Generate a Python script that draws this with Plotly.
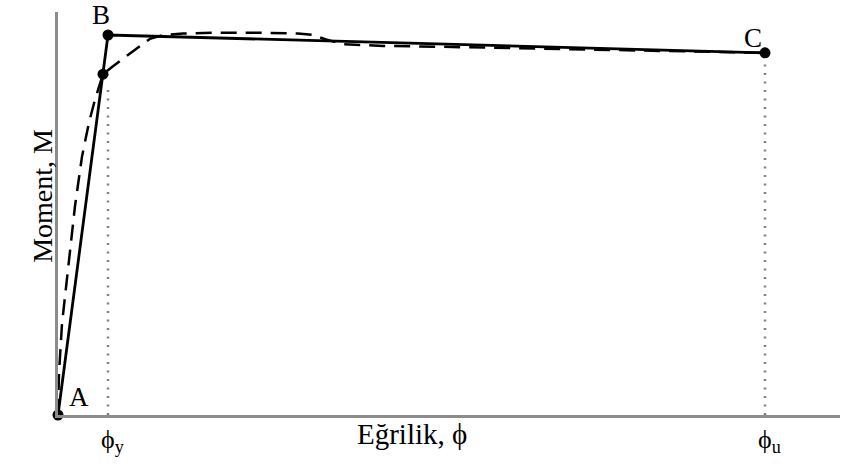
import plotly.graph_objects as go

# Idealised trilinear moment-curvature relation (A-B-C) and a measured-style curve
phi_ideal = [0.0, 0.50, 7.07]
m_ideal = [0.0, 1.00, 0.953]

phi_curve = [0.0, 0.01, 0.04, 0.10, 0.17, 0.24, 0.31, 0.37, 0.42, 0.45,
             0.55, 0.66, 0.79, 0.92, 1.05, 1.25, 1.60, 2.00, 2.40, 2.55,
             2.68, 2.85, 3.25, 3.62, 7.07]
m_curve = [0.0, 0.11, 0.24, 0.39, 0.55, 0.68, 0.77, 0.83, 0.875, 0.897,
           0.918, 0.940, 0.966, 0.990, 1.000, 1.004, 1.006, 1.006, 1.004, 1.000,
           0.988, 0.976, 0.971, 0.970, 0.953]

# Key points: A (origin), first yield, B (peak), C (ultimate)
pt_phi = [0.0, 0.45, 0.50, 7.07]
pt_m = [0.0, 0.897, 1.00, 0.953]

phi_y = 0.50
phi_u = 7.07
m_y = 0.897
m_u = 0.953

point_labels = ["A", "B", "C"]
point_label_phi = [0.21, 0.43, 6.95]
point_label_m = [0.047, 1.052, 0.993]

tick_texts = ["ϕ<sub>y</sub>", "ϕ<sub>u</sub>"]
tick_pos = [phi_y, phi_u]

FONT = "Liberation Serif"

fig = go.Figure()

# Dotted guides down to the curvature axis
fig.add_trace(go.Scatter(x=[phi_y, phi_y], y=[0, m_y - 0.03], mode="lines",
                         line=dict(color="#808080", width=2.5, dash="2px,6.5px"),
                         hoverinfo="skip", showlegend=False))
fig.add_trace(go.Scatter(x=[phi_u, phi_u], y=[0, m_u - 0.03], mode="lines",
                         line=dict(color="#808080", width=2.5, dash="2px,6.5px"),
                         hoverinfo="skip", showlegend=False))

# Dashed curve
fig.add_trace(go.Scatter(x=phi_curve, y=m_curve, mode="lines",
                         line=dict(color="black", width=2.5, dash="16px,9px"),
                         hoverinfo="skip", showlegend=False))

# Solid idealised curve
fig.add_trace(go.Scatter(x=phi_ideal, y=m_ideal, mode="lines",
                         line=dict(color="black", width=2.8),
                         hoverinfo="skip", showlegend=False))

# Point markers
fig.add_trace(go.Scatter(x=pt_phi, y=pt_m, mode="markers",
                         marker=dict(color="black", size=11),
                         cliponaxis=False, hoverinfo="skip", showlegend=False))

for lbl, px, py in zip(point_labels, point_label_phi, point_label_m):
    fig.add_annotation(x=px, y=py, xref="x", yref="y", text=lbl, showarrow=False,
                       font=dict(family=FONT, size=27, color="black"))

for t, p in zip(tick_texts, tick_pos):
    fig.add_annotation(x=p, y=0, xref="x", yref="y", text=t, showarrow=False,
                       xanchor="left", yanchor="top", xshift=-9, yshift=-8,
                       font=dict(family=FONT, size=26, color="black"))

# Axis titles
fig.add_annotation(x=0.453, y=-0.092, xref="paper", yref="paper",
                   text="Eğrilik, ϕ", showarrow=False,
                   font=dict(family=FONT, size=29, color="black"))
fig.add_annotation(x=-0.042, y=0.543, xref="paper", yref="paper",
                   text="Moment, M", showarrow=False, textangle=-90,
                   font=dict(family=FONT, size=28, color="black"))

fig.update_xaxes(range=[0, 7.82], showgrid=False, zeroline=False,
                 showticklabels=False, ticks="", showline=True,
                 linecolor="#8c8c8c", linewidth=2.5)
fig.update_yaxes(range=[0, 1.0605], showgrid=False, zeroline=False,
                 showticklabels=False, ticks="", showline=True,
                 linecolor="#8c8c8c", linewidth=2.5)

fig.update_layout(width=854, height=476,
                  margin=dict(l=58, r=14, t=12, b=61),
                  plot_bgcolor="white", paper_bgcolor="white")

fig.write_html("out.html")
